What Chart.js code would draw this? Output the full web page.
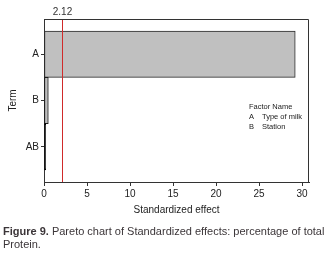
<!DOCTYPE html>
<html>
<head>
<meta charset="utf-8">
<script src="https://cdn.jsdelivr.net/npm/chart.js@4"></script>
<style>
  html, body { margin: 0; padding: 0; background: #fff; }
  #wrap { width: 328px; height: 254px; position: relative; }
</style>
</head>
<body>
<div id="wrap"><canvas id="pareto"></canvas></div>
<script>
var terms = ['A', 'B', 'AB'];
var effects = [29.2, 0.5, 0.2];
var critical = 2.12;
var xTicks = [0, 5, 10, 15, 20, 25, 30];
var factorCodes = ['A', 'B'];
var factorNames = ['Type of milk', 'Station'];

var FONT = "'Liberation Sans Narrow', 'Arial Narrow', 'Liberation Sans', sans-serif";
var INK = '#333333';

var points = effects.map(function (v, i) { return { x: v, y: i }; });

var decorations = {
    id: 'decorations',
    afterDatasetsDraw: function (chart) {
        var ctx = chart.ctx;
        var area = chart.chartArea;
        var xs = chart.scales.x;
        var px = Math.round(xs.getPixelForValue(critical)) + 0.5;

        ctx.save();
        // reference line
        ctx.strokeStyle = '#d02a2a';
        ctx.lineWidth = 1;
        ctx.beginPath();
        ctx.moveTo(px, area.top);
        ctx.lineTo(px, area.bottom);
        ctx.stroke();

        ctx.fillStyle = INK;
        ctx.font = '10px ' + FONT;
        ctx.textAlign = 'center';
        ctx.textBaseline = 'middle';
        ctx.fillText(critical.toFixed(2), px, 12);

        // top and right frame
        ctx.strokeStyle = INK;
        ctx.beginPath();
        ctx.moveTo(area.left, area.top + 0.5);
        ctx.lineTo(area.right - 0.5, area.top + 0.5);
        ctx.lineTo(area.right - 0.5, area.bottom);
        ctx.stroke();

        // factor legend, clipped to the plot
        ctx.beginPath();
        ctx.rect(area.left, area.top, area.right - area.left - 1, area.bottom - area.top);
        ctx.clip();
        ctx.font = '7.5px ' + FONT;
        ctx.textAlign = 'left';
        ctx.fillStyle = '#222';
        ctx.fillText('Factor Name', 249, 107);
        for (var i = 0; i < factorCodes.length; i++) {
            ctx.fillText(factorCodes[i], 249, 117 + i * 9.5);
            ctx.fillText(factorNames[i], 262, 117 + i * 9.5);
        }
        ctx.restore();

        // caption
        ctx.save();
        ctx.fillStyle = '#3b3538';
        ctx.textBaseline = 'middle';
        ctx.textAlign = 'left';
        ctx.font = 'bold 11px ' + FONT;
        var lead = 'Figure 9.';
        ctx.fillText(lead, 3, 232);
        var w = ctx.measureText(lead).width;
        ctx.font = '11px ' + FONT;
        ctx.fillText(' Pareto chart of Standardized effects: percentage of total', 3 + w, 232);
        ctx.fillText('Protein.', 3, 245);
        ctx.restore();
    }
};

new Chart(document.getElementById('pareto'), {
    type: 'bar',
    data: {
        datasets: [{
            data: points,
            backgroundColor: ['#c0c0c0', '#bdbdbd', '#000000'],
            borderColor: ['#2a2a2a', '#1a1a1a', '#000000'],
            borderWidth: 1,
            borderSkipped: false,
            barPercentage: 1,
            categoryPercentage: 1
        }]
    },
    options: {
        indexAxis: 'y',
        responsive: true,
        maintainAspectRatio: false,
        animation: false,
        layout: { padding: { left: 0, top: 19, right: 19, bottom: 36 } },
        plugins: { legend: { display: false }, tooltip: { enabled: false } },
        scales: {
            x: {
                type: 'linear',
                min: 0,
                max: 30.8,
                afterBuildTicks: function (s) { s.ticks = xTicks.map(function (v) { return { value: v }; }); },
                afterFit: function (s) { s.height = 36; },
                grid: { drawOnChartArea: false, color: INK, tickLength: 4 },
                border: { color: INK, width: 1 },
                ticks: { color: '#222', font: { family: FONT, size: 10 }, padding: 2, maxRotation: 0 },
                title: { display: true, text: 'Standardized effect', color: '#222', font: { family: FONT, size: 10 }, padding: { top: 0, bottom: 2 } }
            },
            y: {
                type: 'linear',
                offset: false,
                reverse: true,
                min: -0.76,
                max: 2.76,
                afterBuildTicks: function (s) { s.ticks = terms.map(function (t, i) { return { value: i }; }); },
                afterFit: function (s) { s.width = 44; },
                grid: { drawOnChartArea: false, offset: false, color: INK, tickLength: 3 },
                border: { color: INK, width: 1 },
                ticks: {
                    color: '#222', font: { family: FONT, size: 10 }, padding: 2,
                    callback: function (v) { return terms[v]; }
                },
                title: { display: true, text: 'Term', color: '#222', font: { family: FONT, size: 10 }, padding: { top: 7, bottom: 0 } }
            }
        }
    },
    plugins: [decorations]
});
</script>
</body>
</html>
